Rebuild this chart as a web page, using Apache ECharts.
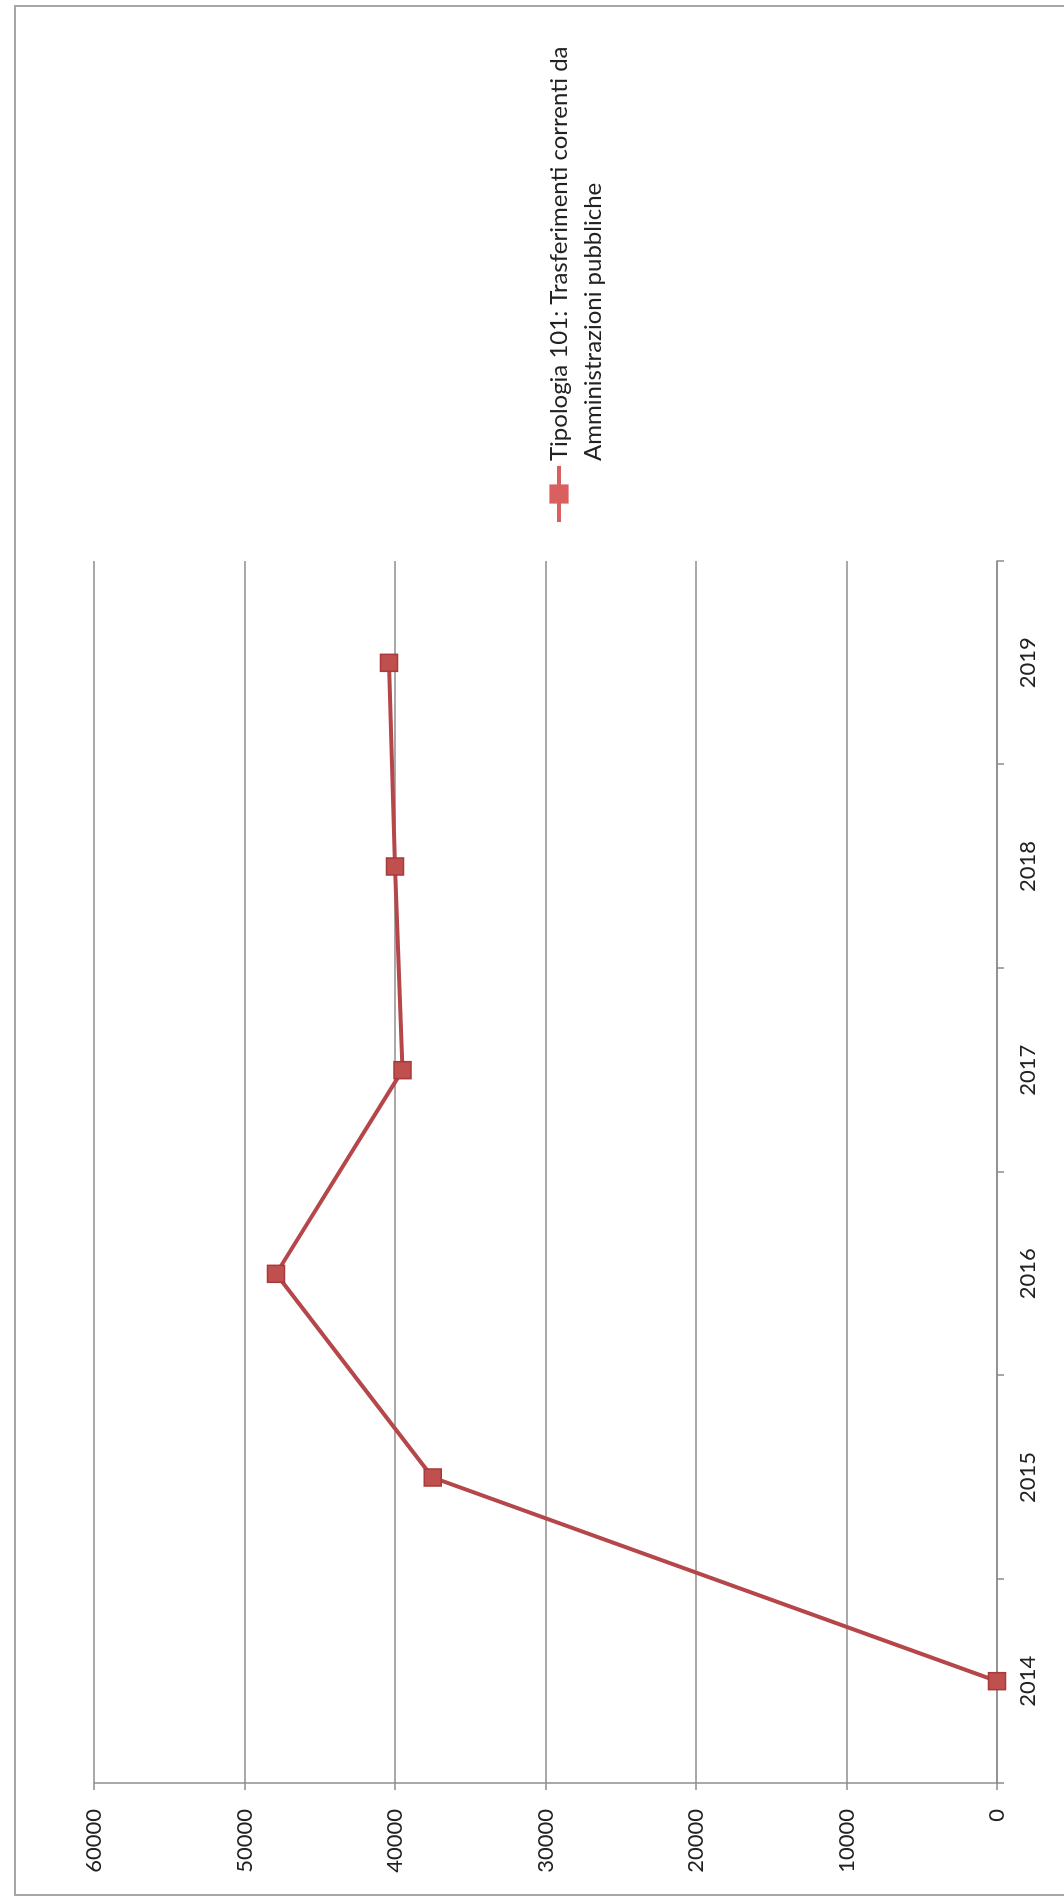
<!DOCTYPE html>
<html>
<head>
<meta charset="utf-8">
<title>Tipologia 101</title>
<script src="https://cdn.jsdelivr.net/npm/echarts@6/dist/echarts.min.js"></script>
<style>
    html, body {margin: 0; padding: 0; background: #fff; width: 1064px; height: 1900px; overflow: hidden;}
    /* il grafico originale è ruotato di 90° in senso antiorario */
    #chart {position: absolute; left: 0; top: 0; width: 1900px; height: 1064px;
        transform-origin: 0 0; transform: translate(0, 1900px) rotate(-90deg);}
</style>
</head>
<body>
<div id="chart"></div>
<script>
    var anni = ['2014', '2015', '2016', '2017', '2018', '2019'];
    var trasferimenti = [0, 37500, 47900, 39500, 40000, 40400];
    var nomeSerie = 'Tipologia 101: Trasferimenti correnti da Amministrazioni pubbliche';
    var fontBase = 'Lato, "Open Sans", sans-serif';

    var chart = echarts.init(document.getElementById('chart'), null, {width: 1900, height: 1064});

    var option = {
        backgroundColor: '#fff',
        animation: false,
        textStyle: {fontFamily: fontBase},
        graphic: [{
            // cornice esterna
            type: 'rect',
            shape: {x: 5, y: 15, width: 1889, height: 1100},
            style: {fill: 'none', stroke: '#a6a6a6', lineWidth: 2},
            silent: true
        }],
        legend: {
            left: 1371,
            top: 503,
            itemWidth: 56,
            itemHeight: 24,
            data: [nomeSerie],
            formatter: function () {
                // riga vuota iniziale: il simbolo resta allineato alla prima riga
                return '\nTipologia 101: Trasferimenti correnti da\nAmministrazioni pubbliche';
            },
            itemStyle: {color: '#d9605f', borderWidth: 0},
            lineStyle: {color: '#d9605f', width: 4},
            textStyle: {fontFamily: fontBase, fontSize: 24, color: '#222', lineHeight: 34}
        },
        grid: {left: 117, right: 561, top: 94, bottom: 67, containLabel: false},
        xAxis: {
            type: 'category',
            data: anni,
            boundaryGap: true,
            axisLine: {lineStyle: {color: '#8c8c8c', width: 1.5}},
            axisTick: {show: true, length: 7, interval: 0, lineStyle: {color: '#8c8c8c', width: 1.5}},
            axisLabel: {fontFamily: fontBase, fontSize: 22, color: '#222', margin: 20}
        },
        yAxis: {
            type: 'value',
            min: 0,
            max: 60000,
            interval: 10000,
            axisLine: {show: true, lineStyle: {color: '#8c8c8c', width: 1.5}},
            axisTick: {show: true, length: 7, lineStyle: {color: '#8c8c8c', width: 1.5}},
            splitLine: {lineStyle: {color: '#8c8c8c', width: 1.5}},
            axisLabel: {
                fontFamily: fontBase, fontSize: 22, color: '#222', margin: 26,
                formatter: function (v) { return String(v); }
            }
        },
        series: [{
            name: nomeSerie,
            type: 'line',
            data: trasferimenti,
            symbol: 'rect',
            symbolSize: 17,
            lineStyle: {color: '#b5474b', width: 4},
            itemStyle: {color: '#c0504d', borderColor: '#a8393d', borderWidth: 1.5}
        }]
    };

    chart.setOption(option);
</script>
</body>
</html>
